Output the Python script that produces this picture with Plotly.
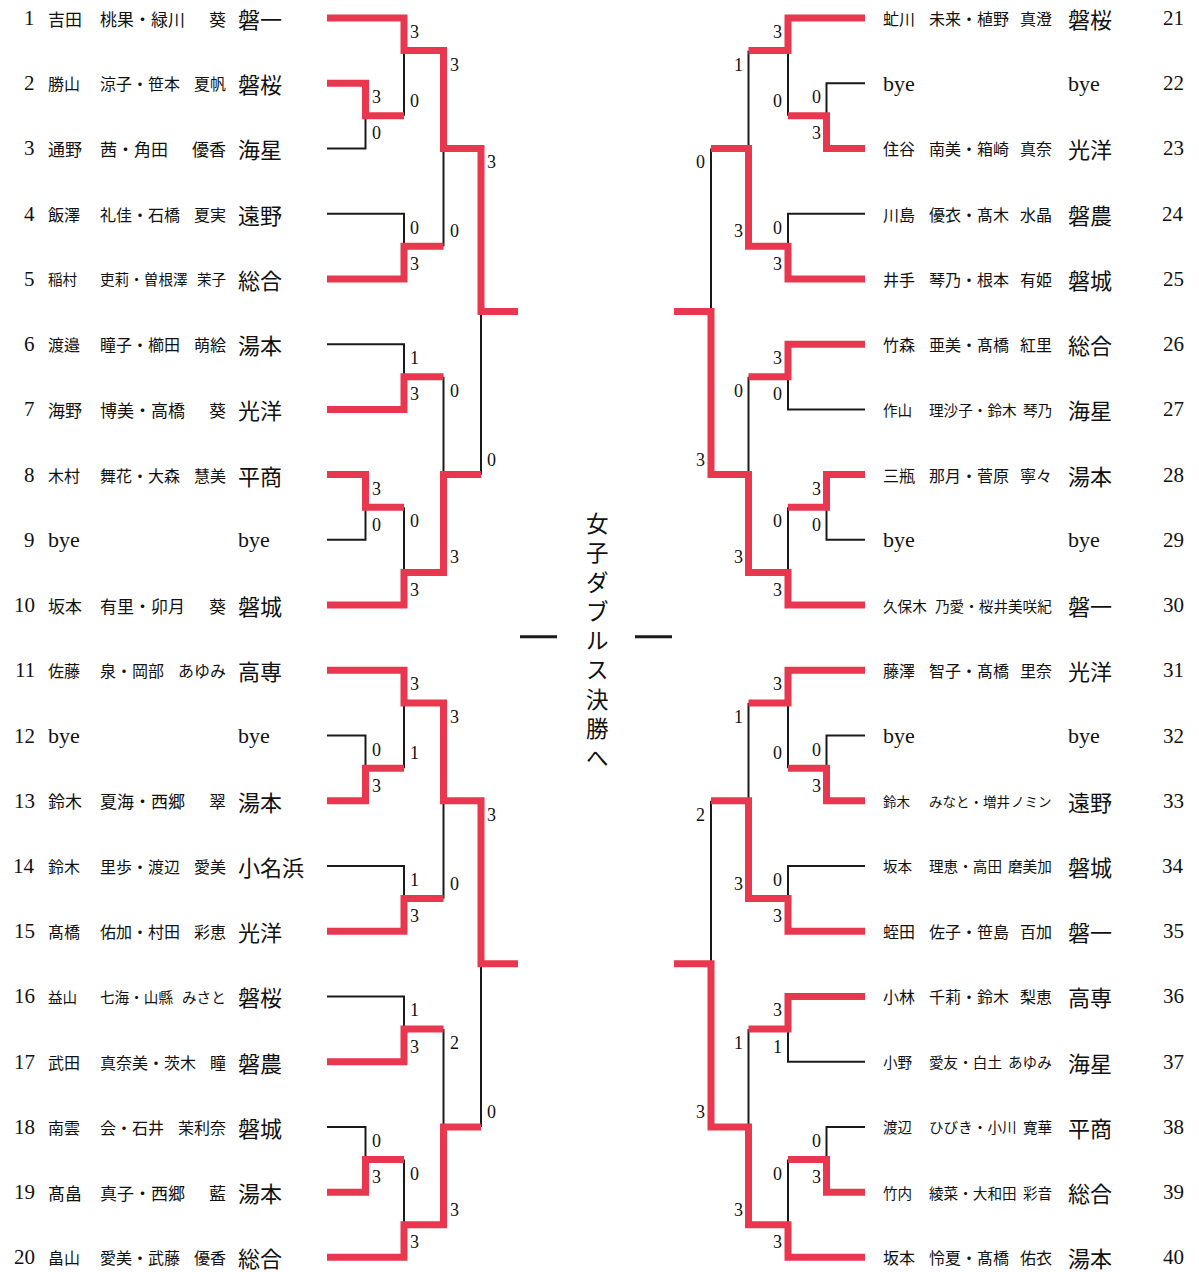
import plotly.graph_objects as go

# ---------------- data ----------------
numbers = list(range(1, 41))
names = [
    "吉田 桃果・緑川 葵", "勝山 涼子・笹本 夏帆", "通野 茜・角田 優香", "飯澤 礼佳・石橋 夏実", "稲村 吏莉・曽根澤 茉子",
    "渡邉 瞳子・櫛田 萌絵", "海野 博美・高橋 葵", "木村 舞花・大森 慧美", "bye", "坂本 有里・卯月 葵",
    "佐藤 泉・岡部 あゆみ", "bye", "鈴木 夏海・西郷 翠", "鈴木 里歩・渡辺 愛美", "髙橋 佑加・村田 彩恵",
    "益山 七海・山縣 みさと", "武田 真奈美・茨木 瞳", "南雲 会・石井 茉利奈", "髙畠 真子・西郷 藍", "畠山 愛美・武藤 優香",
    "虻川 未来・植野 真澄", "bye", "住谷 南美・箱崎 真奈", "川島 優衣・髙木 水晶", "井手 琴乃・根本 有姫",
    "竹森 亜美・髙橋 紅里", "作山 理沙子・鈴木 琴乃", "三瓶 那月・菅原 寧々", "bye", "久保木 乃愛・桜井美咲紀",
    "藤澤 智子・髙橋 里奈", "bye", "鈴木 みなと・増井 ノミン", "坂本 理恵・高田 磨美加", "蛭田 佐子・笹島 百加",
    "小林 千莉・鈴木 梨恵", "小野 愛友・白土 あゆみ", "渡辺 ひびき・小川 寛華", "竹内 綾菜・大和田 彩音", "坂本 怜夏・髙橋 佑衣",
]
schools = [
    "磐一", "磐桜", "海星", "遠野", "総合", "湯本", "光洋", "平商", "bye", "磐城",
    "高専", "bye", "湯本", "小名浜", "光洋", "磐桜", "磐農", "磐城", "湯本", "総合",
    "磐桜", "bye", "光洋", "磐農", "磐城", "総合", "海星", "湯本", "bye", "磐一",
    "光洋", "bye", "遠野", "磐城", "磐一", "高専", "海星", "平商", "総合", "湯本",
]

# matches: (id, top, bottom, top score, bottom score); int = entry number
block1 = [("A1", 2, 3, 3, 0), ("B1", 1, "A1", 3, 0), ("C1", 4, 5, 0, 3), ("D1", "B1", "C1", 3, 0),
          ("E1", 6, 7, 1, 3), ("F1", 8, 9, 3, 0), ("G1", "F1", 10, 0, 3), ("H1", "E1", "G1", 0, 3),
          ("K1", "D1", "H1", 3, 0)]
block2 = [("A2", 12, 13, 0, 3), ("B2", 11, "A2", 3, 1), ("C2", 14, 15, 1, 3), ("D2", "B2", "C2", 3, 0),
          ("E2", 16, 17, 1, 3), ("F2", 18, 19, 0, 3), ("G2", "F2", 20, 0, 3), ("H2", "E2", "G2", 2, 3),
          ("K2", "D2", "H2", 3, 0)]
block3 = [("A3", 22, 23, 0, 3), ("B3", 21, "A3", 3, 0), ("C3", 24, 25, 0, 3), ("D3", "B3", "C3", 1, 3),
          ("E3", 26, 27, 3, 0), ("F3", 28, 29, 3, 0), ("G3", "F3", 30, 0, 3), ("H3", "E3", "G3", 0, 3),
          ("K3", "D3", "H3", 0, 3)]
block4 = [("A4", 32, 33, 0, 3), ("B4", 31, "A4", 3, 0), ("C4", 34, 35, 0, 3), ("D4", "B4", "C4", 1, 3),
          ("E4", 36, 37, 3, 1), ("F4", 38, 39, 0, 3), ("G4", "F4", 40, 0, 3), ("H4", "E4", "G4", 1, 3),
          ("K4", "D4", "H4", 2, 3)]
blocks = [("L", block1), ("L", block2), ("R", block3), ("R", block4)]
title_chars = list("女子ダブルス決勝へ")

# ---------------- layout constants ----------------
W, H = 1199, 1272
ROW0, ROWH = 18, 65.23
X_START, X_LEVELS, X_STUB = 327, [365.5, 404, 443.5, 481], 518
MIRROR = 1192
RED, BLACK = "#e8374e", "#1a1a1a"
JP = "Noto Sans CJK JP"
SERIF = "Liberation Serif"


def row_of(n):
    return (n - 1) % 20 + 1


def ry(r):
    return ROW0 + (r - 1) * ROWH


def xp(side, v):
    return v if side == "L" else MIRROR - v


red_x, red_y, blk_x, blk_y = [], [], [], []
annotations = []
final_js = []

for side, block in blocks:
    md = {m[0]: m for m in block}
    kids = {c for m in block for c in (m[1], m[2])}
    root = [m[0] for m in block if m[0] not in kids][0]
    depth = {}

    def setd(node, d):
        depth[node] = d
        if node in md:
            setd(md[node][1], d + 1)
            setd(md[node][2], d + 1)
    setd(root, 0)

    pos = {}

    def getpos(node):
        if node in pos:
            return pos[node]
        if isinstance(node, int):
            p = row_of(node)
        else:
            _, t, b, _, _ = md[node]
            pt, pb = getpos(t), getpos(b)
            ti, bi = isinstance(t, int), isinstance(b, int)
            if ti and not bi:
                p = pt + 0.5
            elif bi and not ti:
                p = pb - 0.5
            else:
                p = (pt + pb) / 2
        pos[node] = p
        return p

    for m in block:
        getpos(m[0])
    X = {m[0]: xp(side, X_LEVELS[3 - depth[m[0]]]) for m in block}
    parent = {}
    for mid, t, b, st, sb in block:
        parent[t] = (mid, st > sb)
        parent[b] = (mid, sb > st)

    # lines
    entries = sorted(k for k in kids if isinstance(k, int))
    for e in entries:
        mid, won = parent[e]
        y0 = ry(pos[e])
        if not won:
            blk_x.extend([xp(side, X_START), X[mid], X[mid], None])
            blk_y.extend([y0, y0, ry(pos[mid]), None])
            continue
        px, py = [xp(side, X_START)], [y0]
        node = e
        while node in parent:
            mid, won = parent[node]
            px.append(X[mid]); py.append(ry(pos[node]))
            if not won:
                blk_x.extend([X[mid], X[mid], None])
                blk_y.extend([ry(pos[node]), ry(pos[mid]), None])
                break
            px.append(X[mid]); py.append(ry(pos[mid]))
            node = mid
        else:
            px.append(xp(side, X_STUB)); py.append(ry(pos[node]))
            final_js.append(ry(pos[node]))
        red_x.extend(px + [None]); red_y.extend(py + [None])

    # scores
    for mid, t, b, st, sb in block:
        xa = "left" if side == "L" else "right"
        lx = X[mid] + (4 if side == "L" else -4)
        for val, yy in ((st, ry(pos[t]) + 14), (sb, ry(pos[b]) - 15)):
            annotations.append(dict(x=lx, y=yy, text=str(val), xanchor=xa, yanchor="middle",
                                    showarrow=False, font=dict(family=SERIF, size=18, color="#111")))

# entry texts
for n, nm, sc in zip(numbers, names, schools):
    side = "L" if n <= 20 else "R"
    y = ry(row_of(n))
    if side == "L":
        nx, ns, sx, gx, p2 = 37, 46, 236, 228, 98
        base = 17
    else:
        nx, ns, sx, gx, p2 = 1186, 881, 1066, 1054, 927
        base = 16
    annotations.append(dict(x=nx, y=y, text=str(n), xanchor="right", yanchor="middle", showarrow=False,
                            font=dict(family=SERIF, size=21, color="#111")))
    if nm == "bye":
        for xx in (ns, sx):
            annotations.append(dict(x=xx, y=y, text="bye", xanchor="left", yanchor="middle", showarrow=False,
                                    font=dict(family=SERIF, size=22, color="#111")))
        continue
    parts = nm.split(" ")
    nchar = len(nm.replace(" ", ""))
    if nchar <= 8:
        fs = base
    elif nchar == 9:
        fs = 16
    elif nchar == 10 or len(parts) == 2:
        fs = 14.6
    else:
        fs = 13.5
    f = dict(family=JP, size=fs, color="#111")
    annotations.append(dict(x=ns, y=y, text=parts[0], xanchor="left", yanchor="middle", showarrow=False, font=f))
    if len(parts) == 3:
        annotations.append(dict(x=p2, y=y, text=parts[1], xanchor="left", yanchor="middle", showarrow=False, font=f))
        annotations.append(dict(x=gx, y=y, text=parts[2], xanchor="right", yanchor="middle", showarrow=False, font=f))
    else:
        annotations.append(dict(x=gx, y=y, text=parts[1], xanchor="right", yanchor="middle", showarrow=False, font=f))
    annotations.append(dict(x=sx, y=y, text=sc, xanchor="left", yanchor="middle", showarrow=False,
                            font=dict(family=JP, size=22, color="#111")))

fig = go.Figure()
fig.add_trace(go.Scatter(x=blk_x, y=blk_y, mode="lines", line=dict(color=BLACK, width=2),
                         hoverinfo="skip", showlegend=False))
fig.add_trace(go.Scatter(x=red_x, y=red_y, mode="lines", line=dict(color=RED, width=7),
                         hoverinfo="skip", showlegend=False))

# centre title (vertical, one text block) and dashes
cx = MIRROR / 2 + 1
cy = sum(final_js[:2]) / 2
annotations.append(dict(x=cx, y=cy + 1, text="<br>".join(title_chars), xanchor="center", yanchor="middle",
                        align="center", showarrow=False, font=dict(family=JP, size=22.5, color="#111")))
fig.add_trace(go.Scatter(x=[X_STUB + 2, cx - 40, None, MIRROR - X_STUB - 2, MIRROR - cx + 40],
                         y=[cy - 1, cy - 1, None, cy - 1, cy - 1], mode="lines",
                         line=dict(color=BLACK, width=3), hoverinfo="skip", showlegend=False))

fig.update_layout(
    width=W, height=H, margin=dict(l=0, r=0, t=0, b=0),
    paper_bgcolor="white", plot_bgcolor="white",
    xaxis=dict(range=[0, W], visible=False, fixedrange=True),
    yaxis=dict(range=[H, 0], visible=False, fixedrange=True),
    annotations=annotations,
)
fig.write_html("out.html", post_script="document.body.style.margin='0';", config={"displayModeBar": False})
